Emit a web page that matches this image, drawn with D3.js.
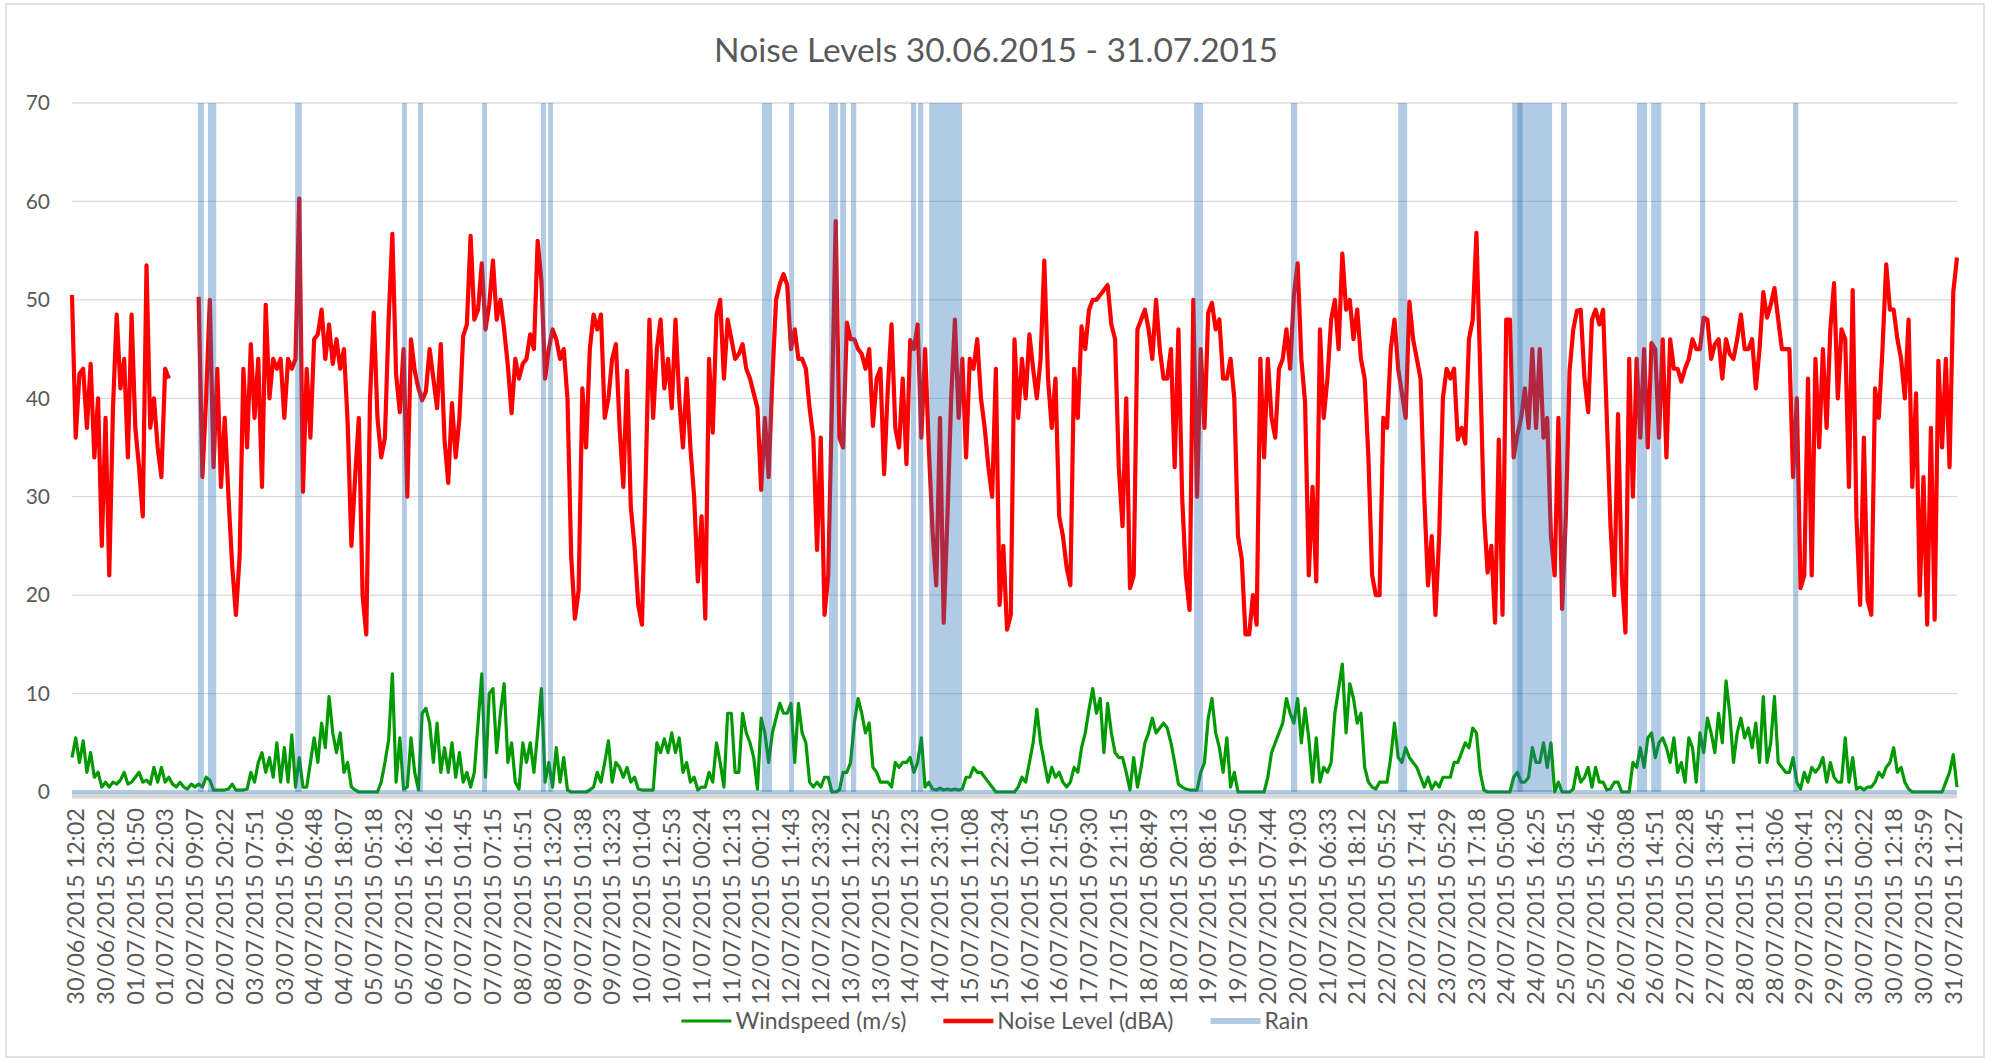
<!DOCTYPE html>
<html>
<head>
<meta charset="utf-8">
<script src="https://cdn.jsdelivr.net/npm/d3@7"></script>
<style>
  body { margin: 0; background: #fff; }
  text { font-family: Lato, "Open Sans", sans-serif; fill: #595959; }
</style>
</head>
<body>
<script>
// category labels shown on the x axis (one every 8 samples)
const tickLabels = [
  "30/06/2015 12:02", "30/06/2015 23:02", "01/07/2015 10:50", "01/07/2015 22:03",
  "02/07/2015 09:07", "02/07/2015 20:22", "03/07/2015 07:51", "03/07/2015 19:06",
  "04/07/2015 06:48", "04/07/2015 18:07", "05/07/2015 05:18", "05/07/2015 16:32",
  "06/07/2015 16:16", "07/07/2015 01:45", "07/07/2015 07:15", "08/07/2015 01:51",
  "08/07/2015 13:20", "09/07/2015 01:38", "09/07/2015 13:23", "10/07/2015 01:04",
  "10/07/2015 12:53", "11/07/2015 00:24", "11/07/2015 12:13", "12/07/2015 00:12",
  "12/07/2015 11:43", "12/07/2015 23:32", "13/07/2015 11:21", "13/07/2015 23:25",
  "14/07/2015 11:23", "14/07/2015 23:10", "15/07/2015 11:08", "15/07/2015 22:34",
  "16/07/2015 10:15", "16/07/2015 21:50", "17/07/2015 09:30", "17/07/2015 21:15",
  "18/07/2015 08:49", "18/07/2015 20:13", "19/07/2015 08:16", "19/07/2015 19:50",
  "20/07/2015 07:44", "20/07/2015 19:03", "21/07/2015 06:33", "21/07/2015 18:12",
  "22/07/2015 05:52", "22/07/2015 17:41", "23/07/2015 05:29", "23/07/2015 17:18",
  "24/07/2015 05:00", "24/07/2015 16:25", "25/07/2015 03:51", "25/07/2015 15:46",
  "26/07/2015 03:08", "26/07/2015 14:51", "27/07/2015 02:28", "27/07/2015 13:45",
  "28/07/2015 01:11", "28/07/2015 13:06", "29/07/2015 00:41", "29/07/2015 12:32",
  "30/07/2015 00:22", "30/07/2015 12:18", "30/07/2015 23:59", "31/07/2015 11:27"
]
const samplesPerTick = 8
const firstTickSample = 1

// noise level (dBA), null = no reading
const noise = [
  50.5, 36, 42.5, 43, 37, 43.5, 34, 40,
  25, 38, 22, 39, 48.5, 41, 44, 34,
  48.5, 37, 33, 28, 53.5, 37, 40, 35,
  32, 43, 42, null, null, null, null, null,
  null, null, 50.3, 32, 40, 50, 33, 43,
  31, 38, 30, 23, 18, 24, 43, 35,
  45.5, 38, 44, 31, 49.5, 40, 44, 43,
  44, 38, 44, 43, 44, 60.3, 30.5, 43,
  36, 46, 46.5, 49, 44, 47.5, 43.5, 46,
  43, 45, 37.5, 25, 32, 38, 20, 16,
  40, 48.7, 38, 34, 36, 48, 56.7, 42.4,
  38.6, 45, 30, 46, 42.8, 41, 39.8, 40.7,
  45, 42, 39, 45.5, 35.8, 31.4, 39.5, 34,
  38, 46.3, 47.5, 56.5, 48, 49, 53.7, 47,
  49.5, 54, 48, 50, 47, 43.3, 38.5, 44,
  42, 43.5, 44, 46.5, 45, 56, 52, 42,
  45, 47, 46, 44, 45, 40, 24, 17.6,
  20.5, 41, 35, 45, 48.5, 47, 48.5, 38,
  40, 44, 45.5, 37, 31, 42.8, 29, 25,
  19, 17, 32, 48, 38, 45, 48, 41,
  44, 39, 48, 40, 35, 42, 35, 30,
  21.4, 28, 17.6, 44, 36.5, 48.4, 50, 42,
  48, 46, 44, 44.5, 45.5, 43, 42, 40.5,
  39, 30.7, 38, 32, 42, 50, 51.6, 52.6,
  51.5, 45, 47, 44, 44, 43, 39, 36,
  24.6, 36, 18, 22, 39.6, 58, 36, 35,
  47.7, 46, 46, 45, 44.5, 43, 45, 37.2,
  42, 43, 32.3, 41, 47.5, 37, 35, 42,
  33.3, 45.9, 45, 47.5, 36, 45, 35, 26.5,
  21, 38, 17.2, 28, 40, 48, 38, 44,
  34, 44, 43, 46, 40, 37, 33, 30,
  43, 19, 25, 16.5, 18, 46, 38, 44,
  40, 46.5, 43, 40, 44, 54, 42, 37,
  42, 28, 26, 22.8, 21, 43, 38, 47.3,
  45, 49, 50, 50, 50.5, 51, 51.5, 47.5,
  46, 33, 27, 40, 20.7, 22, 47, 48,
  49, 47, 44, 50, 45, 42, 42, 45,
  33, 47, 30, 22, 18.5, 50, 30, 45,
  37, 48.7, 49.7, 47, 48, 42, 42, 44,
  40, 26, 23.7, 16, 16, 20, 17, 44,
  34, 44, 38, 36, 43, 44, 47, 43,
  50.5, 53.7, 44, 39.6, 22, 31, 21.4, 47,
  38, 42, 48, 50, 45, 54.7, 49, 50,
  46, 49, 44, 42, 34, 22, 20, 20,
  38, 37, 45, 48, 43, 40.5, 38, 49.8,
  46, 44, 42, 30, 21, 26, 18, 26,
  40, 43, 42, 43, 35.8, 37, 35.4, 46,
  48, 56.8, 43, 28.4, 22.3, 25, 17.2, 35.8,
  18, 48, 48, 34, 36.3, 38, 41, 37,
  45, 37, 45, 36, 38, 26, 22, 38,
  18.6, 28, 42.8, 47, 48.9, 49, 42, 38.6,
  48, 49, 47.5, 49, 38, 27, 20, 38.4,
  22, 16.2, 44, 30, 44, 36, 45, 35,
  45.6, 45, 36, 46, 34, 46, 43, 43,
  41.7, 43, 44, 46, 45, 45, 48.2, 48,
  44, 45.5, 46, 42, 46, 44.5, 44, 46,
  48.5, 45, 45, 46, 41, 45, 50.8, 48.2,
  49.5, 51.2, 48, 45, 45, 45, 32, 40,
  20.7, 22, 42, 22, 44, 35, 45, 37,
  47, 51.7, 40, 47, 46, 31, 51, 28,
  19, 36, 19.5, 18, 41, 38, 45, 53.6,
  49, 49, 46, 44, 40, 48, 31, 40.5,
  20, 32, 17, 37, 17.5, 43.8, 35, 44,
  33, 50.8, 54.3
]

// windspeed (m/s)
const wind = [
  3.5, 5.5, 3, 5.2, 2, 4, 1.5, 2,
  0.5, 1, 0.5, 1, 0.8, 1.2, 2, 0.8,
  1, 1.5, 2, 1, 1.2, 0.8, 2.5, 1,
  2.5, 1, 1.5, 0.8, 0.5, 1, 0.5, 0.3,
  0.8, 0.5, 0.8, 0.5, 1.5, 1.2, 0.2, 0.2,
  0.2, 0.2, 0.3, 0.8, 0.2, 0.2, 0.2, 0.3,
  2, 1, 3, 4, 2, 3.5, 1.5, 5,
  1, 4.5, 1, 5.8, 0.5, 3.5, 0.5, 0.5,
  3, 5.5, 3, 7, 4.5, 9.7, 6, 4,
  6, 2, 3, 0.5, 0.2, 0, 0, 0,
  0, 0, 0, 1, 3, 5.3, 12, 1,
  5.5, 0.3, 0.5, 5.5, 2, 0.2, 8, 8.5,
  7, 3, 7, 2, 4.5, 2, 5, 1.5,
  4, 1, 2, 0.5, 2, 7, 12, 1.5,
  10, 10.5, 4, 8, 11, 3, 5, 1,
  0.3, 5, 3, 5, 2, 6, 10.5, 1,
  3, 0.5, 4.5, 1, 3.5, 0.2, 0, 0,
  0, 0, 0, 0.2, 0.5, 2, 1, 3,
  5.2, 1, 3, 2.5, 1.5, 2.5, 1, 1.5,
  0.3, 0.2, 0.2, 0.2, 0.2, 5, 4, 5.4,
  4, 6, 4, 5.5, 2, 3, 1, 1.5,
  0.2, 0.5, 0.5, 2, 1, 5, 3, 0.5,
  8, 8, 2, 2, 8, 6, 5, 3.5,
  0.3, 7.5, 6, 3, 6, 7.5, 9, 8,
  8, 9, 3, 9, 6, 5, 1, 0.5,
  1, 0.5, 1.5, 1.5, 0, 0, 0.2, 2,
  2, 3, 7, 9.5, 8, 6, 7, 2.5,
  2, 1, 1, 1, 0.5, 3, 2.5, 3,
  3, 3.5, 2, 3, 5.5, 0.5, 1, 0.3,
  0.2, 0.4, 0.2, 0.3, 0.2, 0.3, 0.2, 0.3,
  1.5, 1.5, 2.5, 2, 2, 1.5, 1, 0.5,
  0, 0, 0, 0, 0, 0, 0.5, 1.5,
  1, 3, 5, 8.4, 5, 3, 1, 2.5,
  1.5, 2, 1, 0.5, 1, 2.5, 2, 4.5,
  6, 8.4, 10.5, 8, 9.5, 4, 9, 6,
  4, 3.5, 3.5, 2, 0.2, 3.5, 0.5, 2.5,
  5, 6, 7.5, 6, 6.5, 7, 6.5, 5,
  3, 0.8, 0.5, 0.3, 0.2, 0.2, 0.2, 2,
  3, 7.5, 9.5, 6, 4.5, 2, 5.5, 0.5,
  2, 0, 0, 0, 0, 0, 0, 0,
  0, 1.5, 4, 5, 6, 7, 9.5, 8,
  7, 9.5, 5, 8.5, 5.5, 1, 5.5, 1,
  2.5, 2, 3, 8, 10.5, 13, 6, 11,
  9.5, 7, 8, 2.5, 1, 0.5, 0.3, 1,
  1, 1, 3.5, 7, 3.5, 3, 4.5, 3.5,
  3, 2.5, 1.5, 0.5, 1.5, 0.3, 1, 0.5,
  1.5, 1.5, 1.5, 3, 3, 4, 5, 4.5,
  6.5, 6, 2, 0.2, 0, 0, 0, 0,
  0, 0, 0, 1.5, 2, 1, 1, 1.5,
  4.5, 3, 3, 5, 2.5, 5, 0, 1,
  0, 0, 0, 0.3, 2.5, 1, 1.5, 2.5,
  0.5, 2.5, 1, 1, 0.2, 0.3, 1, 1,
  0, 0, 0, 3, 2.5, 4.5, 2.5, 5.5,
  6, 3.5, 5, 5.5, 4.5, 3, 5.5, 2,
  3, 1, 5.5, 4.5, 1, 6, 4, 7.5,
  6, 4, 8, 5, 11.3, 8, 3, 6,
  7.5, 5.5, 6.5, 4.5, 7, 3, 9.7, 3,
  5, 9.7, 3, 2.5, 2, 2, 3.5, 1,
  0.3, 2, 1, 2.5, 2, 2.5, 3.5, 1,
  3, 1.5, 1, 1, 5.5, 1, 3.5, 0.3,
  0.5, 0.2, 0.5, 0.5, 1, 2, 1.5, 2.5,
  3, 4.5, 2, 2.5, 1, 0.3, 0, 0,
  0, 0, 0, 0, 0, 0, 0, 1,
  2, 3.8, 0.5
]

// rain spells as [start, end] in sample positions
const rainSpells = [
  [33.8, 35.4], [36.5, 38.7], [59.9, 61.7], [88.6, 89.9], [92.9, 94.2],
  [110.1, 111.4], [125.9, 127.2], [127.8, 129.1], [185.2, 187.9], [192.5, 193.8],
  [203.2, 205.6], [206.2, 207.8], [209.1, 210.5], [225.2, 226.6], [227.1, 228.5],
  [230.1, 238.9], [301.2, 303.6], [327.2, 328.9], [356, 358.4], [386.6, 397.3],
  [388, 389.4], [399.7, 401.3], [420.1, 422.8], [423.9, 426.6], [437, 438.4],
  [462, 463.4]
]
const yTicks = [0, 10, 20, 30, 40, 50, 60, 70]
const rainLevel = 70

const [width, height] = [1993, 1060]
const plot = { left: 72, right: 1957, top: 103, bottom: 792 }
const colors = {
  text: "#595959",
  grid: "#d9d9d9",
  axis: "#d9d9d9",
  border: "#d9d9d9",
  wind: "#009a00",
  noise: "#ff0000",
  rain: "#2a70b3"
}
const rainOpacity = 0.36

const svg = d3.select("body")
  .append("svg")
    .attr("width", width)
    .attr("height", height)

svg.append("rect")
  .attr("x", 6).attr("y", 4)
  .attr("width", 1978).attr("height", 1053)
  .attr("fill", "white")
  .attr("stroke", colors.border)
  .attr("stroke-width", 1.5)

const x = d3.scaleLinear()
  .domain([0, noise.length - 1])
  .range([plot.left, plot.right])
const y = d3.scaleLinear()
  .domain([0, 70])
  .range([plot.bottom, plot.top])

// gridlines
svg.append("g")
  .selectAll("line")
  .data(yTicks.filter(d => d > 0))
  .join("line")
    .attr("x1", plot.left).attr("x2", plot.right)
    .attr("y1", d => y(d)).attr("y2", d => y(d))
    .attr("stroke", colors.grid)
    .attr("stroke-width", 1.3)

svg.append("line")
  .attr("x1", plot.left).attr("x2", plot.right)
  .attr("y1", y(0) + 4).attr("y2", y(0) + 4)
  .attr("stroke", colors.axis)
  .attr("stroke-width", 5)

// y labels
svg.append("g")
  .selectAll("text")
  .data(yTicks)
  .join("text")
    .attr("x", 50)
    .attr("y", d => y(d))
    .attr("dy", "0.35em")
    .attr("text-anchor", "end")
    .style("font-size", "21px")
    .text(d => d)

// x labels
svg.append("g")
  .selectAll("text")
  .data(tickLabels)
  .join("text")
    .attr("transform", (d, j) => `translate(${x(firstTickSample + j * samplesPerTick)},808) rotate(-90)`)
    .attr("dy", "0.35em")
    .attr("text-anchor", "end")
    .style("font-size", "23.5px")
    .text(d => d)

// series
const line = d3.line()
  .defined(d => d != null)
  .x((d, i) => x(i))
  .y(d => y(d))

svg.append("path")
  .datum(wind)
  .attr("fill", "none")
  .attr("stroke", colors.wind)
  .attr("stroke-width", 3.2)
  .attr("stroke-linejoin", "round")
  .attr("d", line)

svg.append("path")
  .datum(noise)
  .attr("fill", "none")
  .attr("stroke", colors.noise)
  .attr("stroke-width", 4.2)
  .attr("stroke-linejoin", "round")
  .attr("d", line)

// rain on top, translucent
svg.append("line")
  .attr("x1", plot.left).attr("x2", plot.right)
  .attr("y1", y(0)).attr("y2", y(0))
  .attr("stroke", colors.rain)
  .attr("stroke-opacity", rainOpacity)
  .attr("stroke-width", 4)

svg.append("g")
  .selectAll("rect")
  .data(rainSpells)
  .join("rect")
    .attr("x", d => x(d[0]))
    .attr("width", d => x(d[1]) - x(d[0]))
    .attr("y", y(rainLevel))
    .attr("height", y(0) - y(rainLevel))
    .attr("fill", colors.rain)
    .attr("fill-opacity", rainOpacity)

// title
svg.append("text")
  .attr("x", 996)
  .attr("y", 62)
  .attr("text-anchor", "middle")
  .style("font-size", "33.5px")
  .text("Noise Levels 30.06.2015 - 31.07.2015")

// legend
const legendItems = [
  { label: "Windspeed (m/s)", color: colors.wind, opacity: 1, w: 3 },
  { label: "Noise Level (dBA)", color: colors.noise, opacity: 1, w: 4.5 },
  { label: "Rain", color: colors.rain, opacity: rainOpacity, w: 6 }
]
const legend = svg.append("g")
const legendY = 1021
let lx = 0
legendItems.forEach(item => {
  const g = legend.append("g").attr("transform", `translate(${lx},0)`)
  g.append("line")
    .attr("x1", 0).attr("x2", 50)
    .attr("y1", legendY).attr("y2", legendY)
    .attr("stroke", item.color)
    .attr("stroke-opacity", item.opacity)
    .attr("stroke-width", item.w)
  const t = g.append("text")
    .attr("x", 54)
    .attr("y", legendY)
    .attr("dy", "0.35em")
    .style("font-size", "23px")
    .text(item.label)
  lx += 54 + t.node().getComputedTextLength() + 37
})
legend.attr("transform", `translate(${995 - (lx - 37) / 2},0)`)
</script>
</body>
</html>
